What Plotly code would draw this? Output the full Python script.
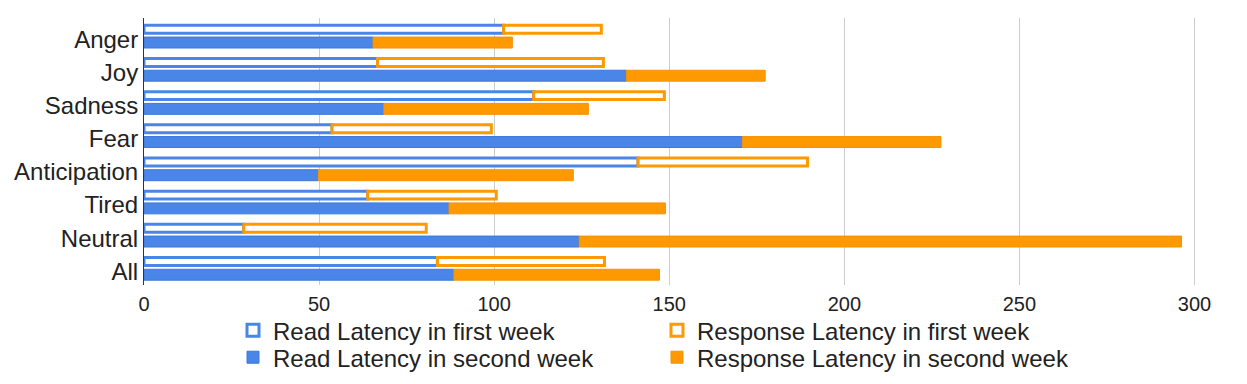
import plotly.graph_objects as go

categories = ["Anger", "Joy", "Sadness", "Fear", "Anticipation", "Tired", "Neutral", "All"]

# latencies
read_week1 = [102.7, 66.7, 111.3, 53.7, 141.1, 63.9, 28.5, 83.8]
resp_week1 = [27.9, 64.5, 37.3, 45.5, 48.4, 36.7, 52.1, 47.7]
read_week2 = [65.4, 137.8, 68.5, 170.9, 49.8, 87.1, 124.3, 88.5]
resp_week2 = [39.8, 39.6, 58.4, 56.7, 72.8, 61.8, 172.0, 58.7]

BLUE = "#4a86e8"
ORANGE = "#ff9900"

idx = list(range(len(categories)))
y1 = [i - 0.2 for i in idx]
y2 = [i + 0.2 for i in idx]

fig = go.Figure()
fig.add_trace(go.Bar(
    name="Read Latency in first week", y=y1, x=read_week1, orientation="h", width=0.24,
    marker=dict(color="white", opacity=1, line=dict(color=BLUE, width=3)),
    legend="legend",
))
fig.add_trace(go.Bar(
    name="Read Latency in second week", y=y2, x=read_week2, orientation="h", width=0.33,
    marker=dict(color=BLUE, opacity=1, line=dict(color="#3c78d8", width=1)),
    legend="legend2",
))
fig.add_trace(go.Bar(
    name="Response Latency in first week", y=y1, x=resp_week1, base=read_week1,
    orientation="h", width=0.24,
    marker=dict(color="white", opacity=1, line=dict(color=ORANGE, width=3)),
    legend="legend3",
))
fig.add_trace(go.Bar(
    name="Response Latency in second week", y=y2, x=resp_week2, base=read_week2,
    orientation="h", width=0.33,
    marker=dict(color=ORANGE, opacity=1, line=dict(color="#f5920a", width=1)),
    legend="legend4",
))
fig.update_traces(opacity=1)

# the page has an 8px body margin, so the figure is drawn 8px smaller
leg = dict(xref="container", yref="container", xanchor="left", yanchor="top",
           font=dict(size=24, color="#222222"), bgcolor="rgba(0,0,0,0)")

fig.update_layout(
    width=1239, height=376,
    margin=dict(l=136, r=42, t=10, b=99, autoexpand=False),
    paper_bgcolor="white", plot_bgcolor="white",
    font=dict(family="Liberation Sans, Arial, sans-serif", color="#222222"),
    barmode="overlay",
    showlegend=True,
    legend=dict(leg, x=0.1816, y=0.202),
    legend2=dict(leg, x=0.1816, y=0.130),
    legend3=dict(leg, x=0.5238, y=0.202),
    legend4=dict(leg, x=0.5238, y=0.130),
)
fig.update_xaxes(
    range=[0, 303], tickvals=[0, 50, 100, 150, 200, 250, 300],
    showgrid=True, gridcolor="#cccccc", gridwidth=1, zeroline=False,
    ticks="", automargin=False, ticklabelstandoff=5,
    tickfont=dict(size=20, color="#222222"),
)
fig.update_yaxes(
    range=[7.51, -0.54], tickvals=[i + 0.1 for i in idx], ticktext=categories,
    showgrid=False, zeroline=False, showline=True, linecolor="#333333", linewidth=1,
    tickfont=dict(size=24, color="#222222"), ticks="", automargin=False,
)

fig.write_html("out.html")
